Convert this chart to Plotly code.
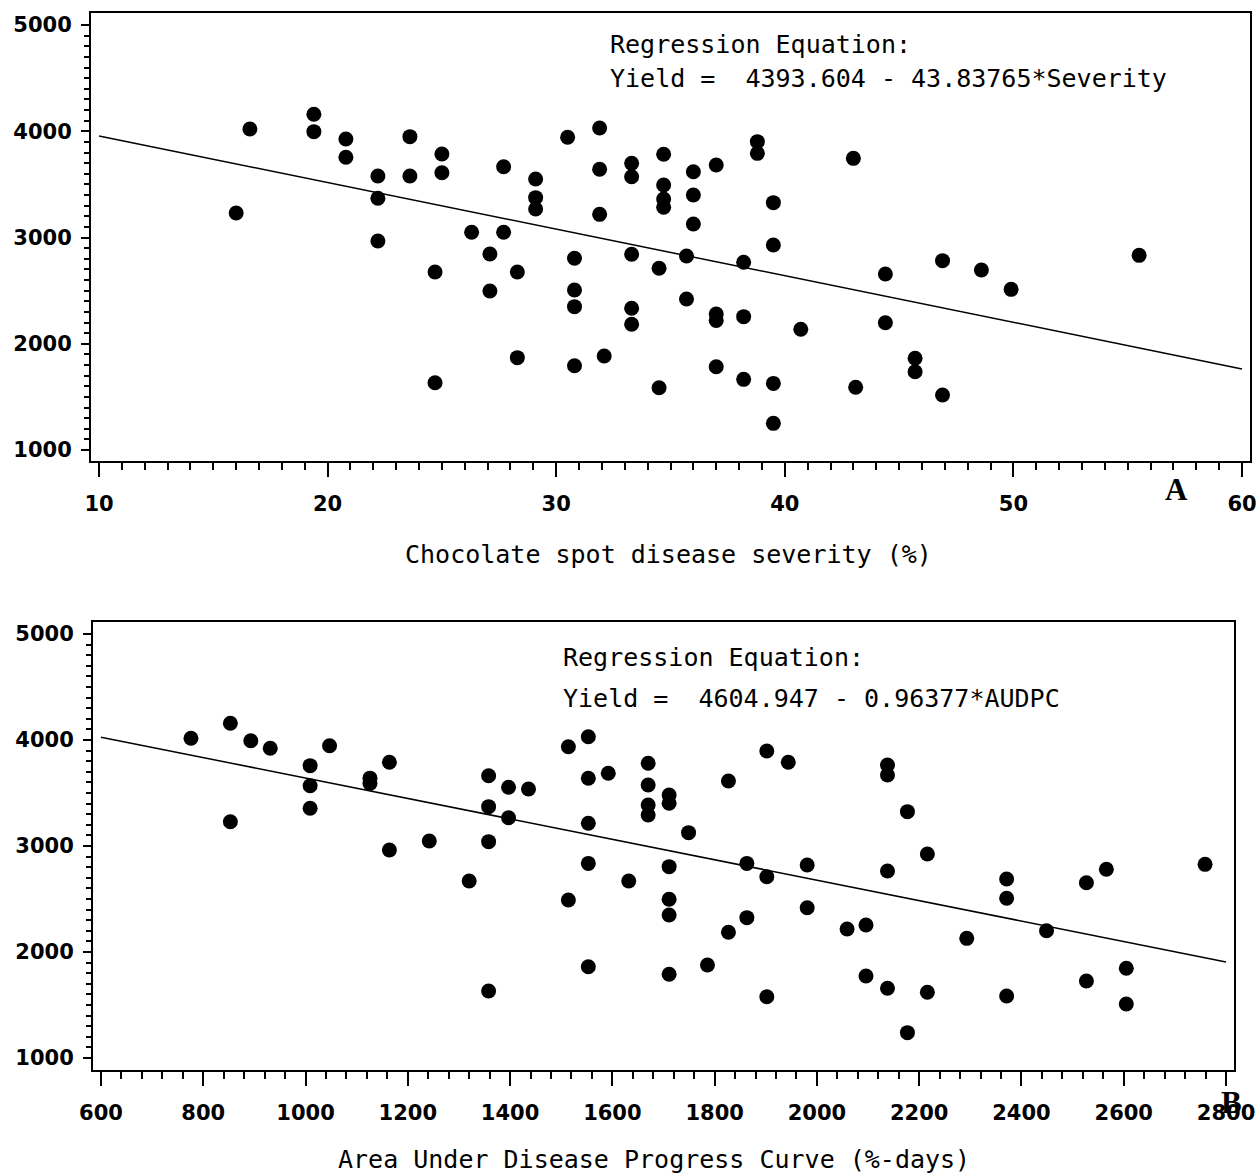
import plotly.graph_objects as go

W, H = 1257, 1175

# Panel A: chocolate spot disease severity (%) against grain yield
severity = [16.0, 16.6, 19.4, 19.4, 20.8, 20.8, 22.2, 22.2, 22.2, 23.6, 23.6, 25.0, 25.0,
            24.7, 24.7, 27.7, 26.3, 27.7, 27.1, 27.1, 28.3, 28.3, 29.1, 29.1, 29.1, 30.5,
            31.9, 31.9, 31.9, 30.8, 30.8, 30.8, 30.8, 32.1, 33.3, 33.3, 33.3, 33.3, 33.3,
            34.7, 34.7, 34.7, 34.7, 34.5, 34.5, 36.0, 36.0, 36.0, 35.7, 35.7, 37.0, 38.8,
            38.8, 39.5, 39.5, 43.0, 38.2, 37.0, 37.0, 38.2, 40.7, 44.4, 44.4, 46.9, 48.6,
            49.9, 55.5, 37.0, 38.2, 39.5, 39.5, 43.1, 45.7, 45.7, 46.9]
yield_a = [3230, 4021, 4160, 3996, 3927, 3755, 3579, 3369, 2967, 3949, 3579, 3786, 3610,
           2675, 1633, 3666, 3049, 3049, 2845, 2496, 2675, 1869, 3551, 3375, 3268, 3943,
           4031, 3642, 3218, 2804, 2506, 2349, 1793, 1885, 3698, 3572, 2842, 2334, 2183,
           3783, 3494, 3362, 3284, 2710, 1586, 3619, 3400, 3127, 2826, 2421, 3682, 3902,
           3792, 3328, 2929, 3745, 2767, 2280, 2220, 2255, 2136, 2656, 2198, 2782, 2694,
           2512, 2832, 1784, 1665, 1627, 1251, 1590, 1863, 1737, 1518]

# Panel B: area under disease progress curve (%-days) against grain yield
audpc = [776, 853, 893, 931, 853, 1047, 1009, 1009, 1009, 1126, 1126, 1164, 1164, 1242,
         1320, 1358, 1358, 1358, 1358, 1397, 1397, 1436, 1514, 1553, 1553, 1592, 1553,
         1553, 1514, 1553, 1632, 1670, 1670, 1670, 1670, 1711, 1711, 1749, 1711, 1711,
         1711, 1711, 1827, 1902, 1944, 2138, 2138, 2177, 2216, 2759, 1863, 1902, 1981,
         2138, 2371, 2371, 2527, 2566, 1863, 1827, 1981, 2059, 2096, 2293, 2449, 1786,
         1902, 2096, 2138, 2216, 2177, 2371, 2527, 2605, 2605]
yield_b = [4016, 4158, 3993, 3922, 3229, 3946, 3758, 3569, 3356, 3640, 3590, 3790, 2962,
           3047, 2670, 3663, 3371, 3041, 1632, 3554, 3267, 3538, 3937, 4031, 3639, 3686,
           3214, 2836, 2491, 1861, 2670, 3780, 3575, 3387, 3292, 3481, 3403, 3126, 2805,
           2497, 2349, 1790, 3613, 3896, 3790, 3764, 3670, 3324, 2925, 2827, 2836, 2710,
           2821, 2764, 2689, 2507, 2654, 2780, 2324, 2186, 2418, 2217, 2255, 2129, 2201,
           1877, 1578, 1774, 1658, 1620, 1239, 1585, 1727, 1846, 1509]

# Fitted regression coefficients (intercept, slope) and fitted x spans
coef_a = (4393.604, -43.83765)
coef_b = (4604.947, -0.96377)
fit_x_a = [10, 60]
fit_x_b = [600, 2800]

x_ticks_a = [10, 20, 30, 40, 50, 60]
x_ticks_b = [600, 800, 1000, 1200, 1400, 1600, 1800, 2000, 2200, 2400, 2600, 2800]
y_ticks = [1000, 2000, 3000, 4000, 5000]

eq_a = ["Regression Equation:", "Yield =\u00a0 4393.604 - 43.83765*Severity"]
eq_b = ["Regression Equation:", "Yield =\u00a0 4604.947 - 0.96377*AUDPC"]
title_a = "Chocolate spot disease severity (%)"
title_b = "Area Under Disease Progress Curve (%-days)"


def fx(p):
    return p / W


def fy(p):
    return 1 - p / H


fig = go.Figure()
marker = dict(color="black", size=15, symbol="circle")
fig.add_trace(go.Scatter(x=severity, y=yield_a, mode="markers", marker=marker,
                         xaxis="x", yaxis="y", showlegend=False))
fig.add_trace(go.Scatter(x=fit_x_a, y=[coef_a[0] + coef_a[1] * v for v in fit_x_a],
                         mode="lines", line=dict(color="black", width=1.5),
                         xaxis="x", yaxis="y", showlegend=False))
fig.add_trace(go.Scatter(x=audpc, y=yield_b, mode="markers", marker=marker,
                         xaxis="x2", yaxis="y2", showlegend=False))
fig.add_trace(go.Scatter(x=fit_x_b, y=[coef_b[0] + coef_b[1] * v for v in fit_x_b],
                         mode="lines", line=dict(color="black", width=1.5),
                         xaxis="x2", yaxis="y2", showlegend=False))

tick_font = dict(family="DejaVu Sans", size=21, color="black", weight="bold")
base = dict(showline=True, linecolor="black", linewidth=2, mirror=True,
            ticks="outside", tickcolor="black", tickwidth=2, showgrid=False,
            zeroline=False, tickfont=tick_font, tickmode="array", automargin=False)

y_minor = [v for v in range(1100, 5000, 100) if v % 1000]


def xaxis(domain, rng, ticks, minor_vals, anchor):
    return dict(base, domain=domain, range=rng, tickvals=ticks, anchor=anchor,
                ticklen=14, ticklabelstandoff=9,
                minor=dict(ticks="outside", ticklen=7, tickwidth=2, tickcolor="black",
                           tickmode="array", tickvals=minor_vals, showgrid=False))


def yaxis(domain, rng, anchor):
    return dict(base, domain=domain, range=rng, tickvals=y_ticks, anchor=anchor,
                ticklen=8, ticklabelstandoff=5,
                minor=dict(ticks="outside", ticklen=5, tickwidth=2, tickcolor="black",
                           tickmode="array", tickvals=y_minor, showgrid=False))


minor_a = [v for v in range(11, 60) if v % 10]
minor_b = [v for v in range(640, 2800, 40) if v % 200]

fig.update_layout(
    width=W, height=H, autosize=False,
    margin=dict(l=0, r=0, t=0, b=0),
    paper_bgcolor="white", plot_bgcolor="white",
    xaxis=xaxis([fx(91), fx(1250)], [9.65, 60.35], x_ticks_a, minor_a, "y"),
    yaxis=yaxis([fy(461), fy(13)], [896.5, 5112.9], "x"),
    xaxis2=xaxis([fx(93), fx(1234)], [584.4, 2815.6], x_ticks_b, minor_b, "y2"),
    yaxis2=yaxis([fy(1070), fy(622)], [886.8, 5113.2], "x2"),
)

mono = dict(family="DejaVu Sans Mono", size=25, color="black")
title_font = dict(family="DejaVu Sans Mono", size=25, color="black")
letter_font = dict(family="Liberation Serif", size=31, color="black", weight="bold")

notes = [
    (eq_a[0], 608, 45, "left", mono),
    (eq_a[1], 608, 79, "left", mono),
    (eq_b[0], 561, 657, "left", mono),
    (eq_b[1], 561, 698, "left", mono),
    (title_a, 669, 554, "center", title_font),
    (title_b, 654, 1159, "center", title_font),
    ("A", 1176, 490, "center", letter_font),
    ("B", 1231, 1102, "center", letter_font),
]
for text, x, y, anchor, font in notes:
    fig.add_annotation(text=text, x=fx(x), y=fy(y), xref="paper", yref="paper",
                       xanchor=anchor, yanchor="middle", showarrow=False, font=font)

fig.write_html("out.html")
